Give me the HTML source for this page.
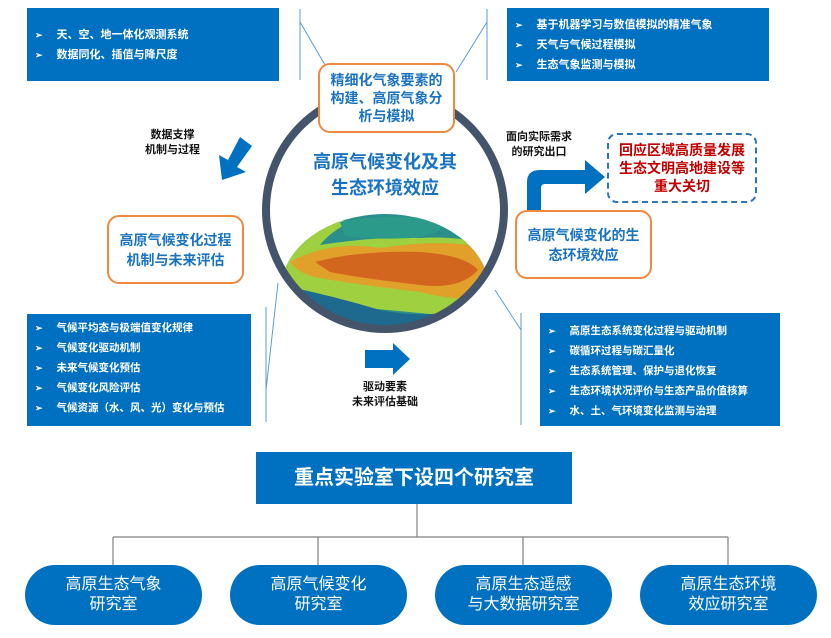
<!DOCTYPE html>
<html><head><meta charset="utf-8"><style>
body{margin:0;width:831px;height:638px;background:#fff;position:relative;overflow:hidden;font-family:"Liberation Sans","Noto Sans CJK SC",sans-serif;}
.a{position:absolute;box-sizing:border-box;}
.bb{background:#0070c0;color:#fff;font-weight:bold;font-size:11px;}
.bb div{height:20px;line-height:20px;white-space:nowrap;}
.bb div:before{content:"➢";font-size:9px;margin-right:14px;}
.ob{border:2px solid #f0893f;border-radius:12px;background:#fff;color:#1a73c0;font-weight:bold;text-align:center;display:flex;align-items:center;justify-content:center;line-height:20px;}
.pill{background:#0070c0;color:#fff;border-radius:30px;text-align:center;font-size:16px;line-height:20px;display:flex;align-items:center;justify-content:center;height:60px;width:177px;top:565px;}
.sm{font-size:11px;font-weight:bold;color:#111;text-align:center;line-height:15px;}
</style></head><body>
<svg class="a" style="left:0;top:0" width="831" height="638">
<g stroke="#5b9bd5" stroke-width="1" fill="none">
<line x1="300" y1="9" x2="300" y2="80"/><line x1="300" y1="22" x2="325" y2="65"/>
<line x1="487" y1="9" x2="487" y2="80"/><line x1="487" y1="22" x2="456" y2="72"/>
<line x1="266" y1="307" x2="266" y2="422"/><line x1="266" y1="390" x2="278" y2="283"/>
<line x1="521" y1="313" x2="521" y2="425"/><line x1="521" y1="330" x2="495" y2="290"/>
</g>
<defs>
<clipPath id="c"><circle cx="385" cy="210" r="116"/></clipPath>
<clipPath id="e"><ellipse cx="385" cy="290" rx="104" ry="76"/></clipPath>
</defs>
<g clip-path="url(#c)"><g clip-path="url(#e)">
<rect x="270" y="210" width="240" height="140" fill="#2a8f8a"/>
<path d="M280 240 Q320 215 350 222 Q330 232 320 245 Q380 236 420 238 Q470 235 495 250 L495 320 L280 300 Z" fill="#9fd040"/>
<path d="M290 262 Q330 240 380 248 Q430 240 470 245 Q495 262 490 300 Q450 300 420 292 Q360 285 320 278 Q300 275 290 262 Z" fill="#e0a02a"/>
<path d="M315 262 Q360 250 420 252 Q465 255 478 270 Q460 290 420 285 Q360 278 330 272 Z" fill="#d2661e"/>
<path d="M340 222 Q390 212 440 220 Q450 233 410 238 Q370 240 345 236 Z" fill="#2c9a8a"/>
<path d="M280 285 Q330 295 380 310 Q440 322 495 300 L495 345 L275 345 Z" fill="#1d6a8e"/>
</g></g>
<circle cx="385" cy="210" r="119" fill="none" stroke="#44546a" stroke-width="8"/>
<polygon points="252,146 240,137 228,160 219,155 222,180 246,172 237,167" fill="#0070c0"/>
<path d="M527 212 L527 182 Q527 170 540 170 L585 170 L585 160 L605 177 L585 194 L585 184 L545 184 Q541 184 541 188 L541 212 Z" fill="#0070c0"/>
<polygon points="365,350 393,350 393,343 410,359 393,375 393,368 365,368" fill="#0070c0"/>
<g stroke="#7f7f7f" stroke-width="1.2" fill="none">
<line x1="417" y1="503" x2="417" y2="537"/><line x1="113" y1="537" x2="728" y2="537"/>
<line x1="113" y1="537" x2="113" y2="566"/><line x1="318" y1="537" x2="318" y2="566"/>
<line x1="523" y1="537" x2="523" y2="566"/><line x1="728" y1="537" x2="728" y2="566"/>
</g>
</svg>
<div class="a bb" style="left:27px;top:8px;width:252px;height:73px;padding:17px 0 0 8px"><div>天、空、地一体化观测系统</div><div>数据同化、插值与降尺度</div></div>
<div class="a bb" style="left:507px;top:8px;width:262px;height:73px;padding:7px 0 0 8px"><div>基于机器学习与数值模拟的精准气象</div><div>天气与气候过程模拟</div><div>生态气象监测与模拟</div></div>
<div class="a ob" style="left:318px;top:63px;width:137px;height:70px;font-size:14px;line-height:18px">精细化气象要素的<br>构建、高原气象分<br>析与模拟</div>
<div class="a" style="left:290px;top:149px;width:190px;text-align:center;color:#1a73c0;font-weight:bold;font-size:18px;line-height:26px">高原气候变化及其<br>生态环境效应</div>
<div class="a sm" style="left:135px;top:128px;width:75px">数据支撑<br>机制与过程</div>
<div class="a ob" style="left:107px;top:215px;width:137px;height:69px;font-size:14px">高原气候变化过程<br>机制与未来评估</div>
<div class="a sm" style="left:500px;top:130px;width:78px">面向实际需求<br>的研究出口</div>
<div class="a" style="left:607px;top:133px;width:150px;height:70px;border:2px dashed #2e75b6;border-radius:10px;color:#c00000;font-weight:bold;font-size:14px;text-align:center;line-height:18px;display:flex;align-items:center;justify-content:center">回应区域高质量发展<br>生态文明高地建设等<br>重大关切</div>
<div class="a ob" style="left:515px;top:210px;width:137px;height:69px;font-size:14px">高原气候变化的生<br>态环境效应</div>
<div class="a bb" style="left:27px;top:314px;width:224px;height:112px;padding:4px 0 0 8px;font-size:10.5px"><div>气候平均态与极端值变化规律</div><div>气候变化驱动机制</div><div>未来气候变化预估</div><div>气候变化风险评估</div><div>气候资源（水、风、光）变化与预估</div></div>
<div class="a sm" style="left:345px;top:380px;width:80px">驱动要素<br>未来评估基础</div>
<div class="a bb" style="left:540px;top:313px;width:240px;height:113px;padding:8px 0 0 8px;font-size:10.5px"><div>高原生态系统变化过程与驱动机制</div><div>碳循环过程与碳汇量化</div><div>生态系统管理、保护与退化恢复</div><div>生态环境状况评价与生态产品价值核算</div><div>水、土、气环境变化监测与治理</div></div>
<div class="a" style="left:256px;top:452px;width:316px;height:52px;background:#0070c0;color:#fff;font-weight:bold;font-size:20px;text-align:center;line-height:52px">重点实验室下设四个研究室</div>
<div class="a pill" style="left:25px">高原生态气象<br>研究室</div>
<div class="a pill" style="left:230px">高原气候变化<br>研究室</div>
<div class="a pill" style="left:435px">高原生态遥感<br>与大数据研究室</div>
<div class="a pill" style="left:640px">高原生态环境<br>效应研究室</div>
</body></html>
